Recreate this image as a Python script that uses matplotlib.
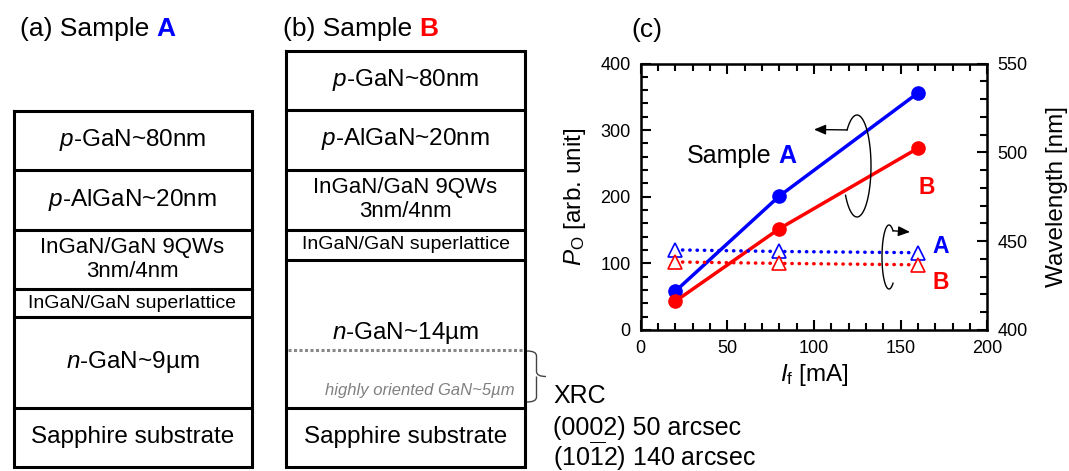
import matplotlib
matplotlib.use('Agg')
import matplotlib.pyplot as plt
import numpy as np
from matplotlib.path import Path
from matplotlib.patches import PathPatch
from matplotlib.ticker import MultipleLocator

plt.rcParams['font.family'] = ['Liberation Sans', 'DejaVu Sans']
plt.rcParams['mathtext.fontset'] = 'custom'
plt.rcParams['mathtext.rm'] = 'Liberation Sans'
plt.rcParams['mathtext.it'] = 'Liberation Sans:italic'
plt.rcParams['mathtext.bf'] = 'Liberation Sans:bold'

BLUE = '#0000ff'
RED = '#ff0000'
W, H = 1069, 471

# (c) output power / peak wavelength vs forward current
current = [20, 80, 160]
power_a = [58, 201, 356]
power_b = [43, 152, 273]
wavelength_a = [445.1, 444.2, 443.5]
wavelength_b = [438.3, 437.5, 436.7]

# layer stacks, top to bottom
layers_a = ['$p$-GaN~80nm', '$p$-AlGaN~20nm', 'InGaN/GaN 9QWs\n3nm/4nm',
            'InGaN/GaN superlattice', '$n$-GaN~9µm', 'Sapphire substrate']
layers_b = ['$p$-GaN~80nm', '$p$-AlGaN~20nm', 'InGaN/GaN 9QWs\n3nm/4nm',
            'InGaN/GaN superlattice', '$n$-GaN~14µm', 'Sapphire substrate']
layer_sizes = [17.5, 17.5, 16, 14, 17.5, 17.5]

xrc_lines = ['XRC', '(0002) 50 arcsec', r'(10$\overline{1}$2) 140 arcsec']


def draw_stack(ov, x0, x1, edges, labels, text_y=None):
    ov.plot([x0, x1, x1, x0, x0], [edges[0], edges[0], edges[-1], edges[-1], edges[0]],
            color='black', lw=2.2, solid_joinstyle='miter')
    for e in edges[1:-1]:
        ov.plot([x0, x1], [e, e], color='black', lw=2.2)
    for i, lab in enumerate(labels):
        y = (edges[i] + edges[i + 1]) / 2
        if text_y and i in text_y:
            y = text_y[i]
        ov.text((x0 + x1) / 2, y, lab, ha='center', va='center',
                fontsize=layer_sizes[i], linespacing=1.2)


def panel_label(ov, x, y, txt, letter, color):
    t = ov.text(x, y, txt, fontsize=19, va='baseline')
    if letter:
        ov.annotate(letter, xy=(1, 0), xycoords=t, xytext=(5, 0), textcoords='offset points',
                    fontsize=19, fontweight='bold', color=color, va='bottom')


def curl(ov, cx, cy, rx, ry, t0, t1, tip):
    t = np.radians(np.linspace(t0, t1, 80))
    xs = cx + rx * np.cos(t)
    ys = cy - ry * np.sin(t)
    ov.plot(xs, ys, color='black', lw=1)
    ov.annotate('', xy=tip, xytext=(xs[0], ys[0]),
                arrowprops=dict(arrowstyle='-|>,head_length=0.7,head_width=0.3',
                                color='black', lw=1, shrinkA=0, shrinkB=0))


def brace(ov, x0, y0, y1, depth):
    xm = x0 + depth / 2
    ym = (y0 + y1) / 2
    verts = [(x0, y0), (xm, y0), (xm, y0 + 5), (xm, ym - 5), (xm, ym), (x0 + depth, ym),
             (xm, ym), (xm, ym + 5), (xm, y1 - 5), (xm, y1), (x0, y1)]
    codes = [Path.MOVETO, Path.CURVE3, Path.CURVE3, Path.LINETO, Path.CURVE3, Path.CURVE3,
             Path.MOVETO, Path.CURVE3, Path.LINETO, Path.CURVE3, Path.CURVE3]
    ov.add_patch(PathPatch(Path(verts, codes), fill=False, color='#444444', lw=1))


def plot_panel_c(fig):
    ax = fig.add_axes([640.5 / W, 1 - 330 / H, 347 / W, 266.5 / H])
    ax.plot(current, power_a, '-o', color=BLUE, lw=2.5, ms=9.5, zorder=3)
    ax.plot(current, power_b, '-o', color=RED, lw=2.5, ms=9.5, zorder=3)
    ax.set_xlim(0, 200)
    ax.set_ylim(0, 400)
    ax.xaxis.set_major_locator(MultipleLocator(50))
    ax.xaxis.set_minor_locator(MultipleLocator(10))
    ax.yaxis.set_major_locator(MultipleLocator(100))
    ax.yaxis.set_minor_locator(MultipleLocator(20))
    ax.tick_params(which='both', direction='in', top=True, right=False, width=1.5,
                   labelsize=13)
    ax.tick_params(which='major', length=7, pad=7)
    ax.tick_params(which='minor', length=5)
    for s in ax.spines.values():
        s.set_linewidth(1.8)
    ax.set_xlabel(r'$I_\mathrm{f}$ [mA]', fontsize=17.5, labelpad=4)
    ax.set_ylabel(r'$P_\mathrm{O}$ [arb. unit]', fontsize=17.5, labelpad=9)

    ax2 = ax.twinx()
    ax2.plot(current, wavelength_a, color=BLUE, lw=2.5, ls=(0, (0.1, 2.0)),
             dash_capstyle='round', marker='^', mfc='white', mec=BLUE, ms=9.5, mew=1.2)
    ax2.plot(current, wavelength_b, color=RED, lw=2.5, ls=(0, (0.1, 2.0)),
             dash_capstyle='round', marker='^', mfc='white', mec=RED, ms=9.5, mew=1.2)
    ax2.set_ylim(400, 550)
    ax2.yaxis.set_major_locator(MultipleLocator(50))
    ax2.yaxis.set_minor_locator(MultipleLocator(10))
    ax2.tick_params(which='both', direction='in', width=1.5, labelsize=13)
    ax2.tick_params(which='major', length=7, pad=7)
    ax2.tick_params(which='minor', length=5)
    ax2.set_ylabel('Wavelength [nm]', fontsize=17.5, labelpad=13)

    t = ax.text(26.5, 251, 'Sample', fontsize=18, va='baseline')
    ax.annotate('A', xy=(1, 0), xycoords=t, xytext=(5, 0), textcoords='offset points',
                fontsize=18, fontweight='bold', color=BLUE, va='bottom')
    ax.text(160, 204, 'B', fontsize=16.5, fontweight='bold', color=RED, va='baseline')
    ax.text(168.5, 115, 'A', fontsize=16.5, fontweight='bold', color=BLUE, va='baseline')
    ax.text(168.5, 62, 'B', fontsize=16.5, fontweight='bold', color=RED, va='baseline')
    return ax


def main():
    fig = plt.figure(figsize=(W / 100, H / 100), dpi=100)
    plot_panel_c(fig)

    ov = fig.add_axes([0, 0, 1, 1])
    ov.set_xlim(0, W)
    ov.set_ylim(H, 0)
    ov.axis('off')

    draw_stack(ov, 13.5, 251.5, [110.7, 169.5, 230, 289, 317, 407.5, 467], layers_a)
    draw_stack(ov, 286, 525, [50.7, 109.5, 169.5, 229.5, 259.5, 407.5, 467], layers_b,
               text_y={4: 333})
    ov.plot([287.5, 523.5], [349.5, 349.5], color='#888888', lw=2.2, ls=(0, (1, 0.8)))
    ov.text(515, 390, 'highly oriented GaN~5µm', fontsize=12, style='italic',
            color='#808080', ha='right', va='center')
    brace(ov, 527, 351, 402, 19)
    for i, line in enumerate(xrc_lines):
        ov.text(553, 403 + 31.5 * i, line, fontsize=18, va='baseline')

    panel_label(ov, 20, 36, '(a) Sample', 'A', BLUE)
    panel_label(ov, 283, 36, '(b) Sample', 'B', RED)
    panel_label(ov, 631, 37, '(c)', None, None)

    curl(ov, 857, 166, 14, 51, 135, -145, (814, 129.5))
    curl(ov, 889, 257, 7, 32, 55, 305, (910, 232))

    fig.savefig('out.png', dpi=100)


if __name__ == '__main__':
    main()
